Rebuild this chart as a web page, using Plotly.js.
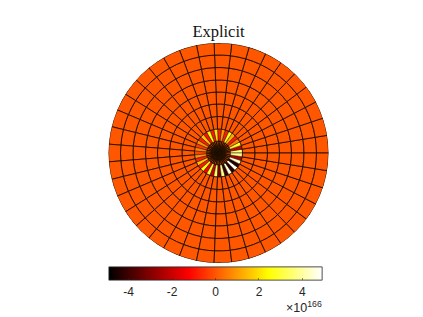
<!DOCTYPE html>
<html>
<head>
<meta charset="utf-8">
<script src="https://cdn.plot.ly/plotly-3.0.1.min.js"></script>
<style>html,body{margin:0;padding:0;background:#fff}#c{width:423px;height:317px}</style>
</head>
<body>
<div id="c"></div>
<script>
const ringEdges = [0, 5, 12, 24, 36.5, 49, 61, 73, 85.5, 98, 110];
const sectorCount = 39;
const sectorIndex = [0,1,2,3,4,5,6,7,8,9,10,11,12,13,14,15,16,17,18,19,20,21,22,23,24,25,26,27,28,29,30,31,32,33,34,35,36,37,38];
const plainRing = [0.02,0.02,0.02,0.02,0.02,0.02,0.02,0.02,0.02,0.02,0.02,0.02,0.02,0.02,0.02,0.02,0.02,0.02,0.02,0.02,0.02,0.02,0.02,0.02,0.02,0.02,0.02,0.02,0.02,0.02,0.02,0.02,0.02,0.02,0.02,0.02,0.02,0.02,0.02];
const coreRing = [-4.9,-4.9,-4.9,-4.9,-4.9,-4.9,-4.9,-4.9,-4.9,-4.9,-4.9,-4.9,-4.9,-4.9,-4.9,-4.9,-4.9,-4.9,-4.9,-4.9,-4.9,-4.9,-4.9,-4.9,-4.9,-4.9,-4.9,-4.9,-4.9,-4.9,-4.9,-4.9,-4.9,-4.9,-4.9,-4.9,-4.9,-4.9,-4.9];
const colouredRing = [3.6,-2.0,2.8,0.6,-0.9,1.2,2.6,-0.8,0.9,-0.9,2.0,-0.9,2.4,-1.0,1.6,-0.8,0.8,-0.4,0.6,-0.3,0.8,-0.8,1.6,-0.9,2.4,-1.4,2.8,-2.0,3.4,-3.2,3.8,-4.2,4.6,-4.4,4.8,-4.4,4.4,-2.4,3.8];
const tickValues = [-4,-2,0,2,4];
const tickLabels = ['-4','-2','0','2','4'];
const hot = [[0,'#000000'],[0.375,'#ff0000'],[0.75,'#ffff00'],[1,'#ffffff']];

const ringData = [coreRing, plainRing, colouredRing, plainRing, plainRing, plainRing, plainRing, plainRing, plainRing, plainRing];
const ringLine = [1, 1.1, 0.5, 0.9, 0.9, 0.9, 0.9, 0.9, 0.9, 0.9];
const step = 360 / sectorCount;
const barBase = {
  orientation: 'h', lenmode: 'pixels', len: 213, thicknessmode: 'pixels', thickness: 13,
  x: 215.5 / 423, xanchor: 'center', y: (317 - 267) / 317, yanchor: 'top', ypad: 0, xpad: 0,
  tickmode: 'array', tickvals: tickValues, ticktext: tickLabels,
  tickfont: {family: 'Liberation Sans, Arial, sans-serif', size: 12, color: '#262626'},
  outlinecolor: '#262626', outlinewidth: 0.6, borderwidth: 0
};
const traces = ringData.map((vals, i) => ({
  type: 'barpolar',
  theta: sectorIndex.map(k => (k + 0.5) * step),
  r: sectorIndex.map(() => ringEdges[i + 1] - ringEdges[i]),
  base: sectorIndex.map(() => ringEdges[i]),
  width: sectorIndex.map(() => step),
  hoverinfo: 'skip',
  showlegend: false,
  marker: {
    color: vals, colorscale: hot, cmin: -4.9, cmax: 4.9,
    line: {color: '#221000', width: ringLine[i]},
    showscale: i < 2,
    colorbar: i === 0
      ? Object.assign({}, barBase, {ticks: 'outside', ticklen: 2, tickcolor: 'rgba(0,0,0,0)', tickwidth: 0.5})
      : i === 1
        ? Object.assign({}, barBase, {ticks: 'inside', ticklen: 2, tickcolor: '#262626', tickwidth: 0.5, showticklabels: false})
        : undefined
  }
}));

Plotly.newPlot('c', traces, {
  width: 423, height: 317, autosize: false,
  margin: {l: 0, r: 0, t: 0, b: 0},
  paper_bgcolor: '#fff', plot_bgcolor: '#fff',
  barmode: 'overlay',
  title: {text: 'Explicit', x: 218.5 / 423, xanchor: 'center', y: 1 - 31 / 317, yanchor: 'middle',
          font: {family: 'Liberation Serif, serif', size: 16.5, color: '#111'}},
  polar: {
    domain: {x: [108.5 / 423, 328.5 / 423], y: [(317 - 263) / 317, (317 - 43) / 317]},
    bgcolor: '#fff',
    barmode: 'overlay',
    radialaxis: {visible: false, range: [0, 110]},
    angularaxis: {visible: false, direction: 'counterclockwise', rotation: 0}
  },
  annotations: [{
    text: '×10<sup>166</sup>', xref: 'paper', yref: 'paper', showarrow: false,
    x: 322 / 423, xanchor: 'right', xshift: 2, y: 1 - 306 / 317, yanchor: 'middle', yshift: -1,
    font: {family: 'Liberation Sans, Arial, sans-serif', size: 12.5, color: '#262626'}
  }]
}, {displayModeBar: false, staticPlot: true});
</script>
</body>
</html>
